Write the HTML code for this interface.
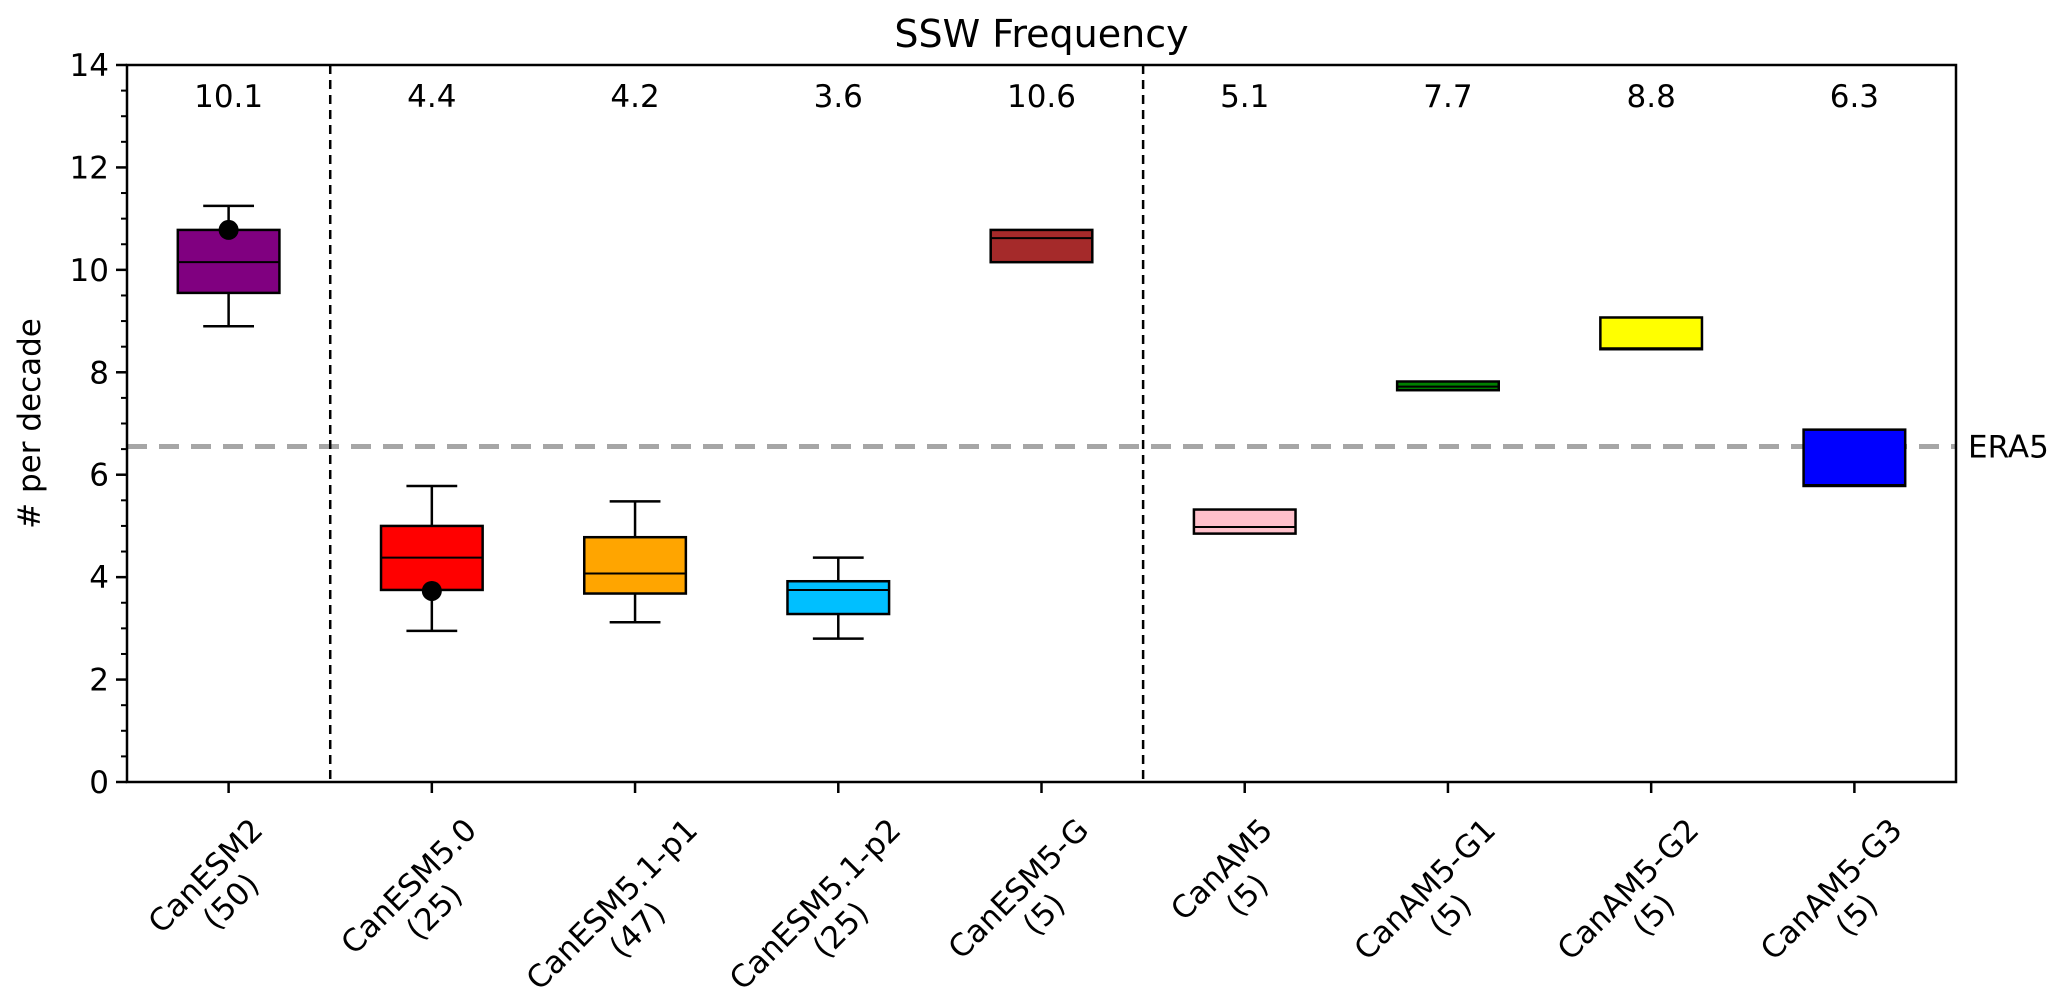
<!DOCTYPE html>
<html><head><meta charset="utf-8"><style>
html,body{margin:0;padding:0;background:#fff;}
svg{display:block;font-family:"DejaVu Sans","Liberation Sans",sans-serif;}
</style></head><body>
<svg id="chart" width="2067" height="1007" viewBox="0 0 2067 1007" xmlns="http://www.w3.org/2000/svg"></svg>
<script>
const categories = ["CanESM2","CanESM5.0","CanESM5.1-p1","CanESM5.1-p2","CanESM5-G","CanAM5","CanAM5-G1","CanAM5-G2","CanAM5-G3"];
const members = ["(50)","(25)","(47)","(25)","(5)","(5)","(5)","(5)","(5)"];
const colors = ["purple","red","orange","deepskyblue","brown","pink","green","yellow","blue"];
const whiskerLow = [8.9,2.95,3.12,2.8,10.15,4.85,7.65,8.45,5.78];
const q1 = [9.55,3.75,3.68,3.28,10.15,4.85,7.65,8.45,5.78];
const median = [10.15,4.38,4.07,3.75,10.62,4.98,7.72,8.47,5.8];
const q3 = [10.78,5.0,4.78,3.92,10.78,5.32,7.82,9.07,6.88];
const whiskerHigh = [11.25,5.78,5.48,4.38,10.78,5.32,7.82,9.07,6.88];
const topValues = ["10.1","4.4","4.2","3.6","10.6","5.1","7.7","8.8","6.3"];
const dotCats = [0,1];
const dotValues = [10.78,3.73];
const era5 = 6.55;
const separators = [1.5,5.5];
const yTicks = [0,2,4,6,8,10,12,14];

const L=127,R=1956,T=65,B=782;
const xs = i => L + (i+1-0.5)*(R-L)/9;
const xv = v => L + (v-0.5)*(R-L)/9;
const ys = v => B - v*(B-T)/14;
const NS="http://www.w3.org/2000/svg";
const svg=document.getElementById('chart');
function mk(tag,attrs,parent){const e=document.createElementNS(NS,tag);for(const k in attrs)e.setAttribute(k,attrs[k]);(parent||svg).appendChild(e);return e;}
const FS=31;

let t=mk('text',{x:(L+R)/2,y:47,'font-size':38,'text-anchor':'middle',fill:'#000'});
t.textContent='SSW Frequency';



t=mk('text',{x:0,y:0,'font-size':FS,'text-anchor':'middle',transform:`translate(40,${(T+B)/2}) rotate(-90)`});
t.textContent='# per decade';



let l=mk('line',{x1:L,x2:R,y1:ys(era5),y2:ys(era5),stroke:'#a6a6a6','stroke-width':5,'stroke-dasharray':'20 12'});


t=mk('text',{x:1968,y:ys(era5)+11,'font-size':FS});
t.textContent='ERA5';



separators.forEach(s=>{
  const e=mk('line',{x1:xv(s),x2:xv(s),y1:T,y2:B,stroke:'#000','stroke-width':2.5,'stroke-dasharray':'9 6'});
  
  
});

const bw=0.5*(R-L)/9, cw=bw/2;
categories.forEach((c,i)=>{
  const g=mk('g',{});
  
  
  const x=xs(i);
  if(whiskerLow[i]<q1[i]){
    mk('line',{x1:x,x2:x,y1:ys(q1[i]),y2:ys(whiskerLow[i]),stroke:'#000','stroke-width':2.5},g);
    mk('line',{x1:x-cw/2,x2:x+cw/2,y1:ys(whiskerLow[i]),y2:ys(whiskerLow[i]),stroke:'#000','stroke-width':2.5},g);
  }
  if(whiskerHigh[i]>q3[i]){
    mk('line',{x1:x,x2:x,y1:ys(q3[i]),y2:ys(whiskerHigh[i]),stroke:'#000','stroke-width':2.5},g);
    mk('line',{x1:x-cw/2,x2:x+cw/2,y1:ys(whiskerHigh[i]),y2:ys(whiskerHigh[i]),stroke:'#000','stroke-width':2.5},g);
  }
  mk('rect',{x:x-bw/2,y:ys(q3[i]),width:bw,height:ys(q1[i])-ys(q3[i]),fill:colors[i],stroke:'#000','stroke-width':2.5},g);
  mk('line',{x1:x-bw/2,x2:x+bw/2,y1:ys(median[i]),y2:ys(median[i]),stroke:'#000','stroke-width':2},g);
  const tv=mk('text',{x:x,y:107,'font-size':FS,'text-anchor':'middle'});
  tv.textContent=topValues[i];
  
  
});
dotCats.forEach((c,k)=>{
  const d=mk('circle',{cx:xs(c),cy:ys(dotValues[k]),r:10,fill:'#000'});
  
  
});

const fr=mk('rect',{x:L,y:T,width:R-L,height:B-T,fill:'none',stroke:'#000','stroke-width':2.5});



for(let v=0;v<=14.001;v+=0.5){
  const major=Math.abs(v-Math.round(v/2)*2)<1e-6;
  mk('line',{x1:L-(major?11:6),x2:L,y1:ys(v),y2:ys(v),stroke:'#000','stroke-width':major?2.5:2});
}
yTicks.forEach(v=>{
  const e=mk('text',{x:L-18,y:ys(v)+11,'font-size':FS,'text-anchor':'end'});
  e.textContent=v;
  
  
});

categories.forEach((c,i)=>{
  const x=xs(i);
  mk('line',{x1:x,x2:x,y1:B,y2:B+11,stroke:'#000','stroke-width':2.5});
  const outer=mk('g',{});
  
  
  const inner=mk('g',{transform:'rotate(-45)'},outer);
  const t1=mk('text',{x:0,y:0,'font-size':FS,'text-anchor':'middle'},inner);
  t1.textContent=c;
  const t2=mk('text',{x:0,y:36,'font-size':FS,'text-anchor':'middle'},inner);
  t2.textContent=members[i];
  const bb=outer.getBBox();
  const cx=bb.x+bb.width/2;
  outer.setAttribute('transform',`translate(${x-10-cx},${812-bb.y})`);
});
</script>
</body></html>
